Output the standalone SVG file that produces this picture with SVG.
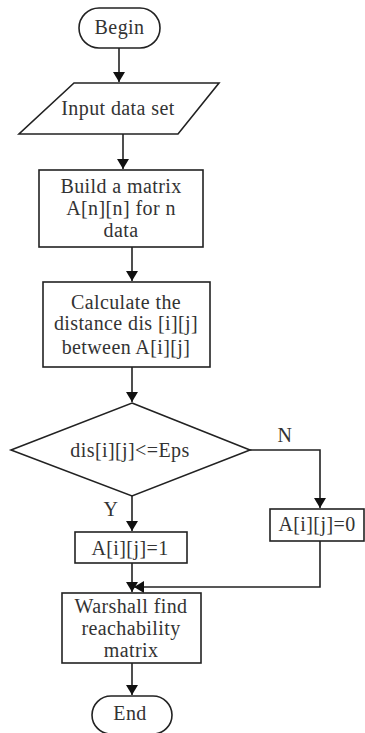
<svg xmlns="http://www.w3.org/2000/svg" width="365" height="733" viewBox="0 0 365 733">
<style>
.s{fill:#fff;stroke:#222;stroke-width:1.6}
.t{font-family:"Liberation Serif","Times New Roman",serif;font-size:20px;letter-spacing:0.4px;fill:#333;text-anchor:middle}
.c{fill:none;stroke:#222;stroke-width:1.6}
</style>
<defs>
<marker id="ah" markerWidth="10" markerHeight="12" refX="10" refY="6" orient="auto" markerUnits="userSpaceOnUse" viewBox="0 0 10 12">
<path d="M0,0 L10,6 L0,12 Z" fill="#111"/>
</marker>
</defs>
<rect width="365" height="733" fill="#fff"/>
<g id="connectors">
<path class="c" d="M119,48 V82" marker-end="url(#ah)"/>
<path class="c" d="M123,134 V169" marker-end="url(#ah)"/>
<path class="c" d="M132,247 V281" marker-end="url(#ah)"/>
<path class="c" d="M132,367 V402" marker-end="url(#ah)"/>
<path class="c" d="M250,450 H320 V508" marker-end="url(#ah)"/>
<path class="c" d="M132,496 V531" marker-end="url(#ah)"/>
<path class="c" d="M132,563 V592" marker-end="url(#ah)"/>
<path class="c" d="M320,541 V587 H134" marker-end="url(#ah)"/>
<path class="c" d="M132,663 V695" marker-end="url(#ah)"/>
<text class="t" x="285" y="442">N</text>
<text class="t" x="111" y="516">Y</text>
</g>
<g id="begin">
<rect class="s" x="79" y="8" width="81" height="40" rx="20"/>
<text class="t" x="119.5" y="34">Begin</text>
</g>
<g id="input">
<polygon class="s" points="74,83 219,83 178,134 19,134"/>
<text class="t" x="118" y="115">Input data set</text>
</g>
<g id="build">
<rect class="s" x="39" y="170" width="164" height="77"/>
<text class="t" x="121" y="193">Build a matrix</text>
<text class="t" x="121" y="215">A[n][n] for n</text>
<text class="t" x="121" y="237">data</text>
</g>
<g id="calc">
<rect class="s" x="43" y="282" width="167" height="85"/>
<text class="t" x="126" y="309">Calculate the</text>
<text class="t" x="126" y="330">distance dis [i][j]</text>
<text class="t" x="126" y="354">between A[i][j]</text>
</g>
<g id="decision">
<polygon class="s" points="132,403 250,450 132,496 11,450"/>
<text class="t" x="130" y="457">dis[i][j]&lt;=Eps</text>
</g>
<g id="a0">
<rect class="s" x="270" y="509" width="94" height="32"/>
<text class="t" x="317" y="531">A[i][j]=0</text>
</g>
<g id="a1">
<rect class="s" x="75" y="532" width="112" height="31"/>
<text class="t" x="130" y="555">A[i][j]=1</text>
</g>
<g id="warshall">
<rect class="s" x="62" y="593" width="139" height="70"/>
<text class="t" x="131" y="613">Warshall find</text>
<text class="t" x="131" y="635">reachability</text>
<text class="t" x="131" y="657">matrix</text>
</g>
<g id="end">
<rect class="s" x="92" y="696" width="80" height="38" rx="19"/>
<text class="t" x="130" y="720">End</text>
</g>
</svg>
